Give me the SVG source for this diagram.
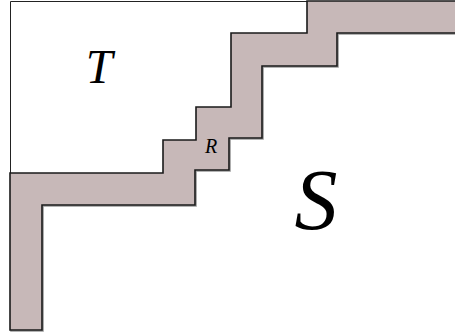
<svg xmlns="http://www.w3.org/2000/svg" width="455" height="335" viewBox="0 0 455 335">
<style>
.lbl{font-family:"Liberation Serif","DejaVu Serif",serif;font-style:italic;fill:#000;text-anchor:middle}
.band{fill:#c7b8b8;stroke:#1a1a1a;stroke-width:1.6;stroke-linejoin:miter}
.shadow{fill:none;stroke:#9a9a9a;stroke-width:1.6}
</style>
<rect width="455" height="335" fill="#fff"/>
<g id="T">
<path d="M10.5,173 V1.5 H307" fill="none" stroke="#222" stroke-width="1"/>
<text class="lbl" x="99" y="83" font-size="48">T</text>
</g>
<g id="band">
<path class="shadow" transform="translate(1,1)" d="M456,33 H337 V66 H262 V138 H229 V170 H195 V205 H42 V330 H10 V173 H163 V140 H196 V107 H231 V33 H307 V1 H456"/>
<path class="band" d="M10,330 V173 H163 V140 H196 V107 H231 V33 H307 V1 H456 V33 H337 V66 H262 V138 H229 V170 H195 V205 H42 V330 Z"/>
</g>
<g id="R">
<text class="lbl" x="211" y="153" font-size="20">R</text>
</g>
<g id="S">
<text class="lbl" x="316" y="229" font-size="86">S</text>
</g>
</svg>
